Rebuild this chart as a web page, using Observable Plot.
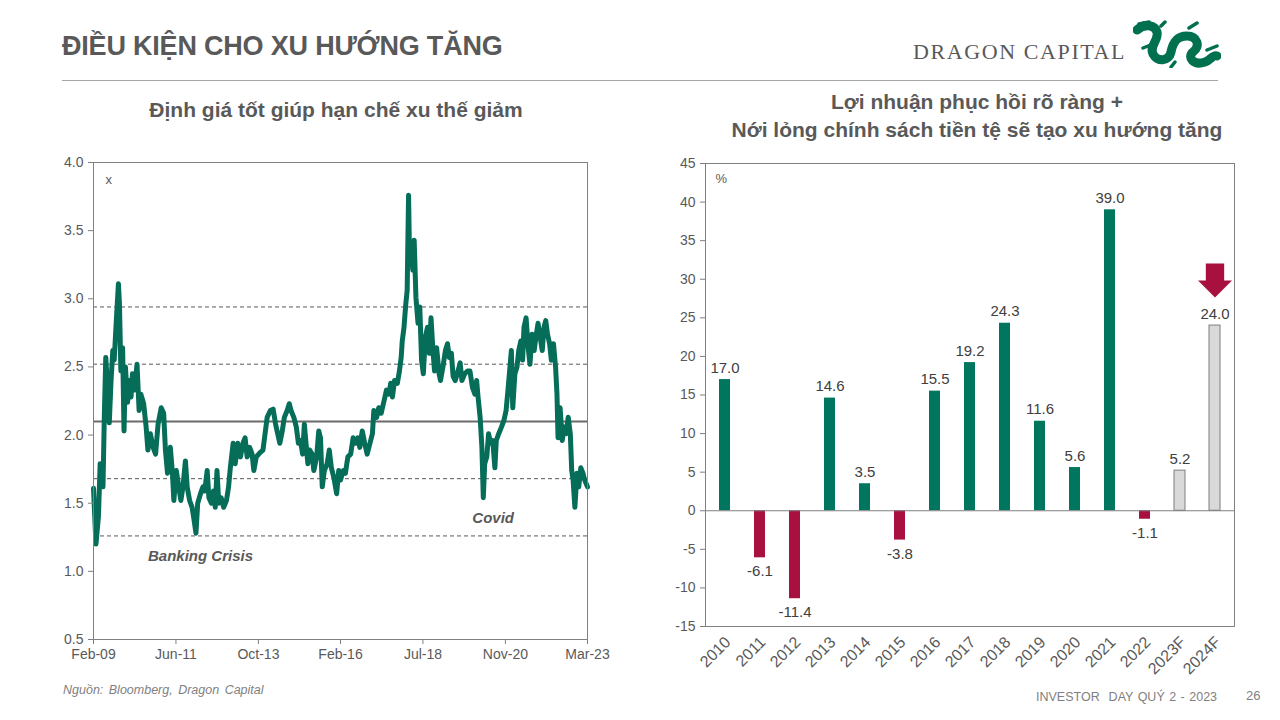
<!DOCTYPE html>
<html><head><meta charset="utf-8">
<script src="https://cdn.jsdelivr.net/npm/d3@7"></script>
<script src="https://cdn.jsdelivr.net/npm/@observablehq/plot@0.6"></script>
<style>
body{margin:0;width:1280px;height:720px;background:#fff;position:relative;overflow:hidden;font-family:"Liberation Sans",Arial,sans-serif;color:#595959}
.abs{position:absolute;white-space:nowrap}
#title{left:62px;top:31px;font-size:27px;font-weight:bold;letter-spacing:-0.2px;line-height:30px}
#rule{left:62px;top:80px;width:1156px;height:1px;background:#a6a6a6}
#brand{left:913px;top:39px;font-family:"Liberation Serif",serif;font-size:22px;letter-spacing:1.6px;line-height:26px}
#logo{left:1133px;top:20px}
#sub1{left:40px;width:592px;top:97px;text-align:center;font-size:21px;font-weight:bold;line-height:26px}
#sub2{left:682px;width:590px;top:88px;text-align:center;font-size:21px;font-weight:bold;line-height:28px}
#left{left:40px;top:150px}
#right{left:650px;top:150px}
#source{left:63px;top:683px;font-size:12.5px;font-style:italic;color:#7f7f7f;word-spacing:2px}
#footer{left:1036px;top:690px;font-size:12.5px;color:#7f7f7f;word-spacing:1px}
#page{left:1246px;top:688px;font-size:13px;color:#7f7f7f}
</style></head>
<body>
<div id="title" class="abs">ĐIỀU KIỆN CHO XU HƯỚNG TĂNG</div>
<div id="rule" class="abs"></div>
<div id="brand" class="abs">DRAGON CAPITAL</div>
<svg id="logo" class="abs" width="88" height="48" viewBox="0 0 88 48">
  <g fill="none" stroke="#00704f" stroke-linecap="round" stroke-linejoin="round">
    <path d="M4,10 C12,3 22,5 24,12 C26,20 16,26 20,34 C24,42 36,42 38,32 C40,22 44,16 54,16 C64,16 68,26 60,32 C54,37 60,46 72,42 C78,40 80,34 84,36" stroke-width="9"/>
    <path d="M6,4 L16,2 M20,24 L10,28 M42,42 L38,47 M56,8 L64,3 M74,30 L84,26 M28,6 L32,2" stroke-width="3.5"/>
  </g>
</svg>
<div id="sub1" class="abs">Định giá tốt giúp hạn chế xu thế giảm</div>
<div id="sub2" class="abs">Lợi nhuận phục hồi rõ ràng +<br>Nới lỏng chính sách tiền tệ sẽ tạo xu hướng tăng</div>
<div id="left" class="abs"></div>
<div id="right" class="abs"></div>
<div id="source" class="abs">Nguồn: Bloomberg, Dragon Capital</div>
<div id="footer" class="abs">INVESTOR&nbsp; DAY QUÝ 2 - 2023</div>
<div id="page" class="abs">26</div>
<script>
// ---------- Left chart data: valuation multiple (x) ----------
const peYear = [
2009.08,2009.15,2009.22,2009.27,2009.35,2009.39,2009.43,2009.48,2009.53,2009.58,
2009.63,2009.67,2009.73,2009.79,2009.82,2009.86,2009.91,2009.95,2009.99,2010.05,
2010.11,2010.15,2010.19,2010.25,2010.32,2010.38,2010.43,2010.51,2010.58,2010.63,
2010.70,2010.78,2010.85,2010.92,2011.01,2011.08,2011.13,2011.19,2011.27,2011.33,
2011.37,2011.44,2011.51,2011.57,2011.63,2011.70,2011.75,2011.82,2011.89,2011.95,
2012.00,2012.05,2012.13,2012.20,2012.25,2012.32,2012.37,2012.44,2012.50,2012.55,
2012.60,2012.65,2012.72,2012.79,2012.87,2012.93,2012.98,2013.06,2013.12,2013.19,
2013.27,2013.34,2013.40,2013.46,2013.53,2013.60,2013.65,2013.72,2013.82,2013.91,
2013.97,2014.03,2014.12,2014.20,2014.27,2014.33,2014.39,2014.46,2014.52,2014.60,
2014.66,2014.71,2014.79,2014.86,2014.92,2014.98,2015.04,2015.09,2015.13,2015.19,
2015.24,2015.31,2015.36,2015.44,2015.50,2015.55,2015.60,2015.66,2015.74,2015.80,
2015.86,2015.93,2016.01,2016.07,2016.12,2016.20,2016.26,2016.33,2016.41,2016.48,
2016.55,2016.61,2016.67,2016.74,2016.81,2016.88,2016.96,2017.03,2017.07,2017.15,
2017.21,2017.28,2017.36,2017.43,2017.50,2017.55,2017.60,2017.66,2017.74,2017.80,
2017.85,2017.88,2017.93,2017.98,2018.02,2018.06,2018.09,2018.14,2018.18,2018.22,
2018.27,2018.33,2018.38,2018.43,2018.48,2018.54,2018.60,2018.65,2018.70,2018.75,
2018.80,2018.86,2018.93,2018.97,2019.04,2019.11,2019.17,2019.22,2019.28,2019.33,
2019.39,2019.47,2019.53,2019.58,2019.66,2019.74,2019.81,2019.88,2019.95,2020.00,
2020.04,2020.10,2020.15,2020.19,2020.23,2020.29,2020.34,2020.40,2020.46,2020.52,
2020.56,2020.63,2020.71,2020.78,2020.84,2020.90,2020.95,2020.99,2021.03,2021.09,
2021.15,2021.20,2021.26,2021.31,2021.35,2021.41,2021.47,2021.52,2021.58,2021.64,
2021.69,2021.75,2021.81,2021.87,2021.92,2021.97,2022.02,2022.08,2022.13,2022.19,
2022.25,2022.29,2022.32,2022.38,2022.44,2022.49,2022.55,2022.61,2022.67,2022.71,
2022.75,2022.80,2022.86,2022.91,2022.97,2023.03,2023.08,2023.16];
const peValue = [
1.61,1.20,1.40,1.79,1.62,2.16,2.57,2.35,2.09,2.40,
2.62,2.55,2.84,3.11,2.96,2.47,2.64,2.03,2.50,2.24,
2.40,2.28,2.45,2.33,2.52,2.18,2.30,2.23,2.06,1.89,
2.01,1.91,1.86,2.08,2.20,2.16,1.89,1.72,1.91,1.72,
1.52,1.74,1.62,1.52,1.62,1.81,1.62,1.52,1.47,1.37,
1.28,1.50,1.57,1.62,1.59,1.74,1.54,1.50,1.59,1.47,
1.74,1.50,1.54,1.47,1.52,1.62,1.76,1.94,1.79,1.94,
1.84,1.94,1.98,1.84,1.91,1.86,1.74,1.84,1.87,1.89,
2.01,2.13,2.18,2.19,2.08,2.01,1.94,2.03,2.13,2.18,
2.23,2.18,2.13,2.06,1.94,1.96,1.86,2.08,1.96,1.79,
1.89,1.86,1.74,1.84,2.03,1.98,1.62,1.74,1.79,1.89,
1.76,1.69,1.57,1.74,1.67,1.74,1.72,1.84,1.86,1.98,
1.94,1.98,1.91,2.03,1.94,1.86,1.94,2.01,2.18,2.13,
2.20,2.16,2.25,2.33,2.30,2.38,2.28,2.40,2.38,2.47,
2.57,2.69,2.79,2.96,3.06,3.76,3.26,3.38,3.21,3.43,
3.01,2.82,2.94,2.55,2.45,2.72,2.79,2.60,2.86,2.64,
2.47,2.64,2.45,2.40,2.50,2.62,2.67,2.57,2.60,2.43,
2.40,2.47,2.53,2.40,2.45,2.47,2.47,2.35,2.30,2.40,
2.28,2.13,1.91,1.54,1.79,1.84,2.01,1.94,1.96,1.76,
1.96,2.01,2.06,2.11,2.18,2.35,2.50,2.62,2.20,2.45,
2.50,2.62,2.69,2.55,2.79,2.86,2.64,2.52,2.74,2.62,
2.72,2.82,2.72,2.62,2.79,2.84,2.74,2.67,2.55,2.67,
2.50,2.30,1.98,2.20,1.96,2.06,2.01,2.13,2.01,1.74,
1.67,1.47,1.72,1.62,1.76,1.72,1.67,1.62];
const meanLevel = 2.10;
const sdLevels = [2.94, 2.52, 1.68, 1.26];
const leftYTicks = [0.5, 1.0, 1.5, 2.0, 2.5, 3.0, 3.5, 4.0];
const leftXTickPos = [2009.08, 2011.43, 2013.78, 2016.12, 2018.47, 2020.82, 2023.16];
const leftXTickLabels = ["Feb-09", "Jun-11", "Oct-13", "Feb-16", "Jul-18", "Nov-20", "Mar-23"];
const eventLabels = ["Banking Crisis", "Covid"];
const eventYear = [2012.13, 2020.47];
const eventValue = [1.11, 1.39];

// ---------- Right chart data: earnings growth (%) ----------
const years = ["2010","2011","2012","2013","2014","2015","2016","2017","2018","2019","2020","2021","2022","2023F","2024F"];
const growth = [17.0, -6.1, -11.4, 14.6, 3.5, -3.8, 15.5, 19.2, 24.3, 11.6, 5.6, 39.0, -1.1, 5.2, 24.0];
const isForecast = [false,false,false,false,false,false,false,false,false,false,false,false,false,true,true];
const rightYTicks = [-15, -10, -5, 0, 5, 10, 15, 20, 25, 30, 35, 40, 45];
const arrowAt = ["2024F"];

const teal = "#00765e", lineTeal = "#066d58", crimson = "#a8113f", grey = "#d9d9d9";
const font = "Liberation Sans, Arial, sans-serif";

const peTable = peYear.map((t, i) => ({t, v: peValue[i]}));
const eventTable = eventLabels.map((label, i) => ({label, t: eventYear[i], v: eventValue[i]}));

const leftChart = Plot.plot({
  width: 590, height: 530,
  marginLeft: 53, marginRight: 43, marginTop: 12, marginBottom: 41,
  style: {fontFamily: font, fontSize: "14px", color: "#595959", background: "transparent", overflow: "visible"},
  x: {domain: [2009.08, 2023.16]},
  y: {domain: [0.5, 4.0]},
  marks: [
    Plot.ruleY(sdLevels, {stroke: "#595959", strokeWidth: 1, strokeDasharray: "4,3"}),
    Plot.ruleY([meanLevel], {stroke: "#6b6b6b", strokeWidth: 2}),
    Plot.line(peTable, {x: "t", y: "v", stroke: lineTeal, strokeWidth: 5, strokeLinejoin: "round", strokeLinecap: "round"}),
    Plot.frame({stroke: "#808080"}),
    Plot.axisY({ticks: leftYTicks, tickFormat: d3.format(".1f"), tickSize: 5, tickPadding: 5, label: null, stroke: "#808080"}),
    Plot.axisX({ticks: leftXTickPos, tickFormat: d => leftXTickLabels[leftXTickPos.indexOf(d)], tickSize: 5, tickPadding: 5, label: null, stroke: "#808080"}),
    Plot.text(["x"], {frameAnchor: "top-left", dx: 12, dy: 12, fontSize: 13, fill: "#595959"}),
    Plot.text(eventTable, {x: "t", y: "v", text: "label", fontSize: 15, fontWeight: "bold", fontStyle: "italic", fill: "#595959"})
  ]
});
document.getElementById("left").appendChild(leftChart);

const barTable = years.map((c, i) => ({cat: c, value: growth[i], forecast: isForecast[i]}));
const fillFor = d => d.forecast ? grey : (d.value < 0 ? crimson : teal);
const arrowSymbol = {
  draw(ctx, size) {
    const r = Math.sqrt(size / Math.PI);
    const w = 0.54 * r;
    ctx.moveTo(-w, -r); ctx.lineTo(w, -r); ctx.lineTo(w, 0); ctx.lineTo(r, 0);
    ctx.lineTo(0, r); ctx.lineTo(-r, 0); ctx.lineTo(-w, 0); ctx.closePath();
  }
};

const rightChart = Plot.plot({
  width: 600, height: 550,
  marginLeft: 55, marginRight: 16, marginTop: 13, marginBottom: 74,
  style: {fontFamily: font, fontSize: "14px", color: "#595959", background: "transparent", overflow: "visible"},
  x: {domain: years, paddingInner: 0.69, paddingOuter: 0.345, axis: null},
  y: {domain: [-15, 45]},
  marks: [
    Plot.barY(barTable, {x: "cat", y: "value", fill: fillFor, stroke: d => d.forecast ? "#7f7f7f" : "none", strokeWidth: 1}),
    Plot.ruleY([0], {stroke: "#7f7f7f", strokeWidth: 1}),
    Plot.frame({stroke: "#808080"}),
    Plot.axisY({ticks: rightYTicks, tickFormat: d => String(d), tickSize: 5, tickPadding: 5, label: null, stroke: "#808080"}),
    Plot.text(years, {x: d => d, frameAnchor: "bottom", rotate: -45, textAnchor: "end", lineAnchor: "middle", dx: 3, dy: 13, fontSize: 16, fill: "#595959"}),
    Plot.text(barTable.filter(d => d.value >= 0), {x: "cat", y: "value", text: d => d.value.toFixed(1), lineAnchor: "bottom", dy: -7, fontSize: 15, fill: "#404040"}),
    Plot.text(barTable.filter(d => d.value < 0), {x: "cat", y: "value", text: d => d.value.toFixed(1), lineAnchor: "top", dy: 8, fontSize: 15, fill: "#404040"}),
    Plot.text(["%"], {frameAnchor: "top-left", dx: 10, dy: 10, fontSize: 13, fill: "#595959", textAnchor: "start"}),
    Plot.dot(barTable.filter(d => arrowAt.includes(d.cat)), {x: "cat", y: "value", symbol: arrowSymbol, r: 17, fill: crimson, stroke: "none", dy: -45})
  ]
});
document.getElementById("right").appendChild(rightChart);
</script>
</body></html>
